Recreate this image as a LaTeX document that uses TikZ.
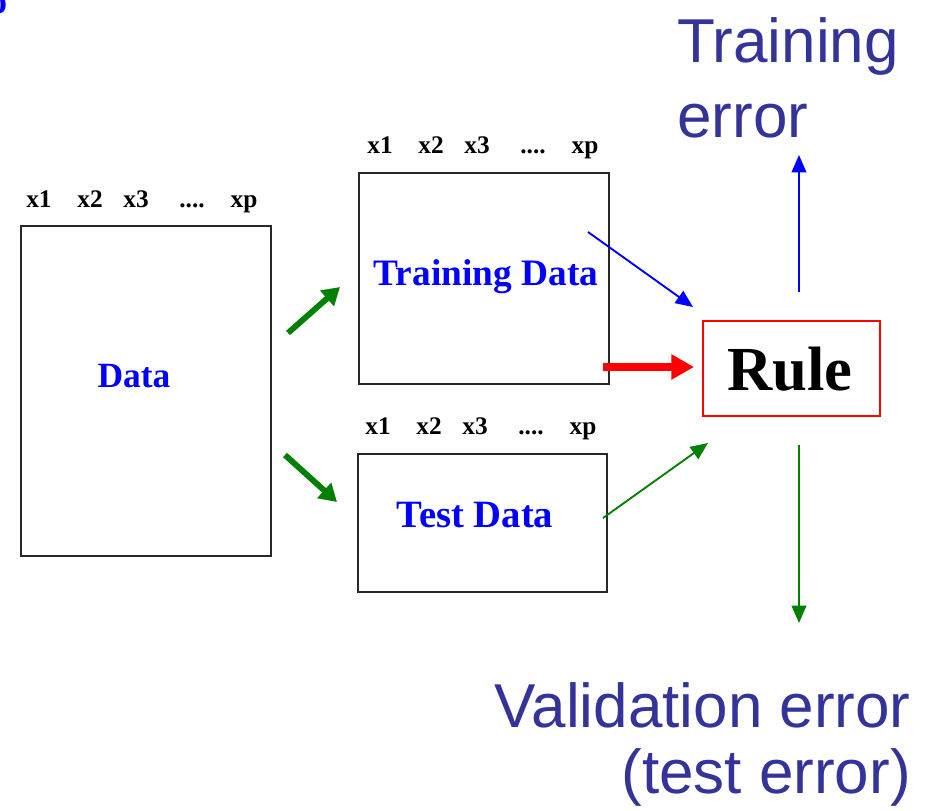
\documentclass[tikz,border=0pt]{standalone}
\usepackage{fontspec}
\setmainfont{Liberation Serif}
\newfontfamily\labelsans{Liberation Sans}
\usetikzlibrary{arrows.meta}

\definecolor{errblue}{RGB}{51,51,153}
\definecolor{arrgreen}{RGB}{0,128,0}
\definecolor{boxgray}{RGB}{40,40,40}

\tikzset{
  databox/.style={draw=boxgray, line width=1.1pt},
  rulebox/.style={draw=red, line width=1.1pt},
  varlbl/.style={font=\fontsize{19}{22}\selectfont\bfseries, anchor=base, inner sep=0pt},
  boxtitle/.style={text=blue, anchor=base, inner sep=0pt},
  bigtext/.style={text=errblue, inner sep=0pt, font=\labelsans\fontsize{46.5}{56}\selectfont},
  thinarrow/.style={line width=1.4pt, -{Triangle[length=13pt,width=11pt]}},
  fatarrow/.style={line width=4.4pt, -{Triangle[length=13pt,width=15pt]}},
  redarrow/.style={draw=red, line width=6pt, -{Triangle[length=17pt,width=18pt]}},
}

\begin{document}
\begin{tikzpicture}[x=0.75pt, y=-0.75pt]
  \useasboundingbox (0,0) rectangle (933,811);
  \clip (0,0) rectangle (933,811);

  % fragment of a heading at the corner
  \node[text=blue, font=\fontsize{27}{30}\selectfont\bfseries, inner sep=0pt] (corner) at (-2,5) {o};

  % data tables
  \draw[databox] (21,226) rectangle (271,556);
  \draw[databox] (359,173) rectangle (609,384);
  \draw[databox] (358,454) rectangle (607,592);

  % column headers
  \foreach \row/\dx/\by in {d/-341/207, tr/0/153, te/-2/434} {
    \node[varlbl] (\row x1) at (380+\dx,\by) {x1};
    \node[varlbl] (\row x2) at (431+\dx,\by) {x2};
    \node[varlbl] (\row x3) at (477+\dx,\by) {x3};
    \node[varlbl] (\row dots) at (533+\dx,\by) {....};
    \node[varlbl] (\row xp) at (585+\dx,\by) {xp};
  }

  \node[boxtitle, font=\fontsize{26.6}{30}\selectfont\bfseries] (data) at (134,387) {Data};
  \node[boxtitle, font=\fontsize{28}{32}\selectfont\bfseries] (train) at (486,285) {Training Data};
  \node[boxtitle, font=\fontsize{29}{33}\selectfont\bfseries] (test) at (475,527) {Test Data};

  % the rule
  \draw[rulebox] (703,321) rectangle (880,416);
  \node[anchor=base, inner sep=0pt, font=\fontsize{47}{52}\selectfont\bfseries] (rule) at (790,390) {Rule};

  % error labels
  \node[bigtext, anchor=base west] (trerr1) at (677,62) {Training};
  \node[bigtext, anchor=base west] (trerr2) at (677,137) {error};
  \node[bigtext, anchor=base east] (valerr1) at (911,727) {Validation error};
  \node[bigtext, anchor=base east] (valerr2) at (911,793) {(test error)};

  % arrow end points
  \coordinate (splitUpS) at (288,333);
  \coordinate (splitUpE) at (340,287);
  \coordinate (splitDnS) at (285,455);
  \coordinate (splitDnE) at (337,502);
  \coordinate (trOutS) at (588,232);
  \coordinate (trOutE) at (693,307);
  \coordinate (fitS) at (603,367);
  \coordinate (fitE) at (694,367);
  \coordinate (teOutS) at (603,518);
  \coordinate (teOutE) at (708,443);
  \coordinate (upS) at (799,292);
  \coordinate (upE) at (799,155);
  \coordinate (dnS) at (799,445);
  \coordinate (dnE) at (799,623);

  % connectors
  \draw[fatarrow, draw=arrgreen, fill=arrgreen] (splitUpS) -- (splitUpE);
  \draw[fatarrow, draw=arrgreen, fill=arrgreen] (splitDnS) -- (splitDnE);
  \draw[thinarrow, draw=blue, fill=blue] (trOutS) -- (trOutE);
  \draw[redarrow, fill=red] (fitS) -- (fitE);
  \draw[thinarrow, draw=arrgreen, fill=arrgreen] (teOutS) -- (teOutE);
  \draw[thinarrow, draw=blue, fill=blue] (upS) -- (upE);
  \draw[thinarrow, draw=arrgreen, fill=arrgreen] (dnS) -- (dnE);
\end{tikzpicture}
\end{document}
